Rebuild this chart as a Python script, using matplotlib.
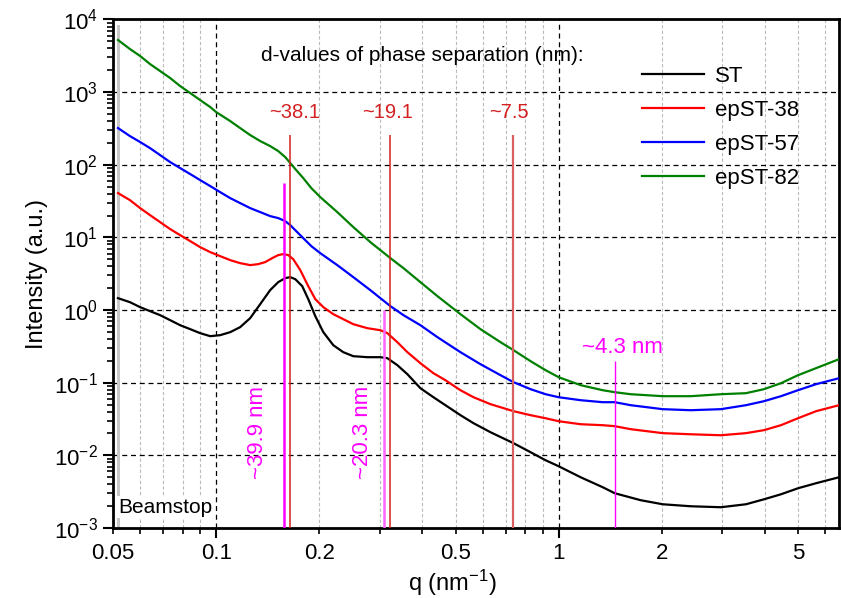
import matplotlib
matplotlib.use("Agg")
import matplotlib.pyplot as plt
import numpy as np
from matplotlib.ticker import FixedLocator, LogLocator, NullFormatter

plt.rcParams['font.family'] = ['Liberation Sans', 'DejaVu Sans']
plt.rcParams['mathtext.fontset'] = 'custom'
plt.rcParams['mathtext.rm'] = 'Liberation Sans'
plt.rcParams['mathtext.it'] = 'Liberation Sans:italic'
plt.rcParams['mathtext.bf'] = 'Liberation Sans:bold'

# SAXS curves, q in nm^-1, intensity in a.u.
q_st = [0.0517, 0.0560, 0.0600, 0.0641, 0.0686, 0.0734, 0.0785, 0.0840, 0.0898, 0.0961,
        0.1027, 0.1099, 0.1175, 0.1257, 0.1345, 0.1438, 0.1518, 0.1591, 0.1646, 0.1702,
        0.1784, 0.1858, 0.1948, 0.2056, 0.2198, 0.2351, 0.2515, 0.2764, 0.3016, 0.3162,
        0.3382, 0.3618, 0.3948, 0.4310, 0.4672, 0.5169, 0.5643, 0.6326, 0.7387, 0.8284,
        0.9161, 1.0, 1.160, 1.345, 1.458, 1.737, 2.014, 2.432, 2.977, 3.523,
        3.976, 4.459, 4.999, 5.643, 6.588]
i_st = [1.458, 1.285, 1.096, 0.966, 0.851, 0.726, 0.619, 0.546, 0.481, 0.437,
        0.451, 0.496, 0.581, 0.773, 1.206, 1.880, 2.423, 2.750, 2.839, 2.665,
        2.134, 1.413, 0.824, 0.496, 0.3285, 0.263, 0.2317, 0.2245, 0.2245, 0.2175,
        0.1742, 0.1309, 0.0840, 0.0631, 0.0490, 0.0357, 0.0277, 0.0208, 0.01468, 0.01103,
        0.00856, 0.00708, 0.00499, 0.00364, 0.00301, 0.00241, 0.00212, 0.00199, 0.00193, 0.00212,
        0.00248, 0.00291, 0.00352, 0.00413, 0.00499]

q_38 = [0.0517, 0.0560, 0.0600, 0.0641, 0.0686, 0.0734, 0.0785, 0.0840, 0.0898, 0.0961,
        0.1027, 0.1099, 0.1175, 0.1257, 0.1327, 0.1390, 0.1458, 0.1518, 0.1570, 0.1624,
        0.1679, 0.1761, 0.1858, 0.1948, 0.2056, 0.2198, 0.2351, 0.2515, 0.2764, 0.3016,
        0.3162, 0.3382, 0.3618, 0.3948, 0.4310, 0.4672, 0.5169, 0.5643, 0.6326, 0.7387,
        0.8284, 0.9161, 1.0, 1.160, 1.345, 1.458, 1.624, 2.014, 2.432, 2.977,
        3.523, 3.976, 4.459, 4.999, 5.643, 6.588]
i_38 = [40.75, 32.65, 25.33, 20.29, 16.25, 13.02, 10.76, 8.894, 7.353, 6.275,
        5.526, 4.868, 4.426, 4.155, 4.288, 4.568, 5.187, 5.705, 5.889, 5.705,
        5.024, 3.544, 2.134, 1.413, 1.096, 0.878, 0.749, 0.639, 0.563, 0.528,
        0.481, 0.361, 0.263, 0.1856, 0.1351, 0.1082, 0.0788, 0.0631, 0.0506, 0.0405,
        0.0357, 0.0324, 0.0295, 0.0268, 0.0260, 0.0252, 0.0229, 0.0202, 0.0195, 0.0189,
        0.0202, 0.0222, 0.0260, 0.0324, 0.0405, 0.0490]

q_57 = [0.0517, 0.0560, 0.0600, 0.0641, 0.0686, 0.0734, 0.0785, 0.0840, 0.0898, 0.0961,
        0.1027, 0.1099, 0.1175, 0.1257, 0.1345, 0.1438, 0.1518, 0.1591, 0.1646, 0.1713,
        0.1796, 0.1896, 0.2014, 0.2258, 0.2515, 0.2820, 0.3227, 0.3523, 0.3948, 0.4428,
        0.5169, 0.5913, 0.6767, 0.7387, 0.8284, 0.9161, 1.0, 1.160, 1.345, 1.458,
        1.624, 2.014, 2.432, 2.977, 3.523, 3.976, 4.459, 4.999, 5.643, 6.588]
i_57 = [320.3, 248.5, 205.5, 169.8, 136.0, 108.9, 90.1, 74.5, 61.55, 50.9,
        42.07, 34.78, 29.69, 25.33, 22.31, 19.65, 18.45, 16.77, 14.77, 12.21,
        9.781, 7.590, 6.077, 4.155, 2.839, 1.880, 1.132, 0.851, 0.619, 0.4233,
        0.263, 0.1798, 0.1268, 0.1016, 0.0814, 0.0694, 0.0631, 0.0574, 0.0539, 0.0539,
        0.0490, 0.0432, 0.0418, 0.0432, 0.0490, 0.0556, 0.0652, 0.0788, 0.0953, 0.1153]

q_82 = [0.0517, 0.0560, 0.0600, 0.0641, 0.0686, 0.0734, 0.0785, 0.0840, 0.0898, 0.0961,
        0.1000, 0.1099, 0.1175, 0.1257, 0.1345, 0.1438, 0.1518, 0.1591, 0.1646, 0.1713,
        0.1796, 0.1896, 0.2014, 0.2258, 0.2515, 0.2820, 0.3227, 0.3523, 0.3948, 0.4428,
        0.5169, 0.5913, 0.6767, 0.7387, 0.8284, 0.9161, 1.0, 1.160, 1.345, 1.458,
        1.624, 2.014, 2.432, 2.977, 3.523, 3.976, 4.459, 4.999, 5.643, 6.588]
i_82 = [5220, 3925, 3142, 2439, 1953, 1564, 1213, 971.8, 778.3, 623.4,
        531.9, 399.9, 320.3, 256.5, 212.1, 180.9, 154.4, 127.7, 105.5, 84.53,
        65.6, 47.76, 35.91, 22.31, 13.87, 8.615, 5.187, 3.777, 2.423, 1.554,
        0.878, 0.546, 0.361, 0.280, 0.1977, 0.1487, 0.1191, 0.0924, 0.0788, 0.0740,
        0.0694, 0.0652, 0.0652, 0.0694, 0.0717, 0.0814, 0.0984, 0.1268, 0.1584, 0.2107]

series = [("ST", q_st, i_st, "black"),
          ("epST-38", q_38, i_38, "#ff0000"),
          ("epST-57", q_57, i_57, "#0000ff"),
          ("epST-82", q_82, i_82, "#008000")]

# d-value markers
red_q = [0.1648, 0.3227, 0.737]
red_top = [256, 256, 256]
red_lbl = ["~38.1", "~19.1", "~7.5"]
red_lbl_q = [0.170, 0.316, 0.714]

mag_q = [0.1581, 0.310, 1.458]
mag_top = [56, 1.0, 0.2]

# axis ticks
x_major = [0.1, 1]
x_minor = [0.05, 0.06, 0.07, 0.08, 0.09, 0.2, 0.3, 0.4, 0.5, 0.6, 0.7, 0.8, 0.9,
           2, 3, 4, 5, 6]
x_minor_lbl = {0.05: "0.05", 0.2: "0.2", 0.5: "0.5", 2: "2", 5: "5"}

fig = plt.figure(figsize=(8.41, 5.98), dpi=100)
ax = fig.add_axes([0.1344, 0.1171, 0.8633, 0.8503])
ax.set_xscale('log')
ax.set_yscale('log')
ax.set_xlim(0.05, 6.59)
ax.set_ylim(1e-3, 1e4)
ax.set_axisbelow(True)

# beamstop
ax.axvspan(0.0512, 0.0525, ymin=0, ymax=0.989, color='#c8c8c8', lw=0, zorder=1)
ax.text(0.0518, 0.00193, "Beamstop", fontsize=15, ha='left', va='center', zorder=5,
        bbox=dict(facecolor='white', edgecolor='none', pad=1))

for name, q, inten, col in series:
    ax.plot(q, inten, color=col, lw=1.6, label=name, zorder=3)

# red lines (phase separation)
ax.vlines(red_q[:2], 1e-3, red_top[:2], color='#d42020', lw=1.1, zorder=4)
ax.vlines(red_q[2], 1e-3, red_top[2], color='#d86060', lw=1.6, zorder=4)
for qq, t in zip(red_lbl_q, red_lbl):
    ax.text(qq, 532, t, color='#d42020', fontsize=14.5, ha='center', va='center')
ax.text(0.400, 3245, "d-values of phase separation (nm):", fontsize=15,
        ha='center', va='center')

# magenta lines
ax.vlines(mag_q[0], 1e-3, mag_top[0], color='#ff00ff', lw=1.8, zorder=4)
ax.vlines(mag_q[1], 1e-3, mag_top[1], color='#ff66ff', lw=1.8, zorder=4)
ax.vlines(mag_q[2], 1e-3, mag_top[2], color='#ff00ff', lw=1.0, zorder=4)
ax.text(0.1318, 0.0208, "~39.9 nm", color='#ff00ff', fontsize=16, rotation=90,
        ha='center', va='center')
ax.text(0.2673, 0.0208, "~20.3 nm", color='#ff00ff', fontsize=16, rotation=90,
        ha='center', va='center')
ax.text(1.539, 0.308, "~4.3 nm", color='#ff00ff', fontsize=16, ha='center', va='center')

# ticks
ax.set_xticks(x_major, [f"{v:g}" for v in x_major])
ax.set_xticks(x_minor, [x_minor_lbl.get(v, "") for v in x_minor], minor=True)
ax.yaxis.set_minor_locator(LogLocator(base=10, subs=np.arange(2, 10) * 1.0, numticks=20))
ax.yaxis.set_minor_formatter(NullFormatter())

ax.tick_params(which='major', direction='out', length=7, width=1.5, labelsize=16, pad=4)
ax.tick_params(which='minor', direction='out', length=4, width=1.2, labelsize=16, pad=7)

for s in ax.spines.values():
    s.set_linewidth(2)

ax.grid(which='major', axis='both', color='black', linestyle=(0, (4, 3)), lw=0.9)
ax.grid(which='minor', axis='x', color='#bbbbbb', linestyle=(0, (3, 2)), lw=0.8)

ax.set_xlabel("q (nm$^{-1}$)", fontsize=17)
ax.set_ylabel("Intensity (a.u.)", fontsize=17)
ax.xaxis.set_label_coords(0.467, -0.078)

ax.legend(loc='upper left', bbox_to_anchor=(0.7287, 0.9086), frameon=False,
          fontsize=16, handlelength=2.8, handletextpad=0.5, labelspacing=0.58,
          borderpad=0, borderaxespad=0)

fig.savefig("out.png", dpi=100)
